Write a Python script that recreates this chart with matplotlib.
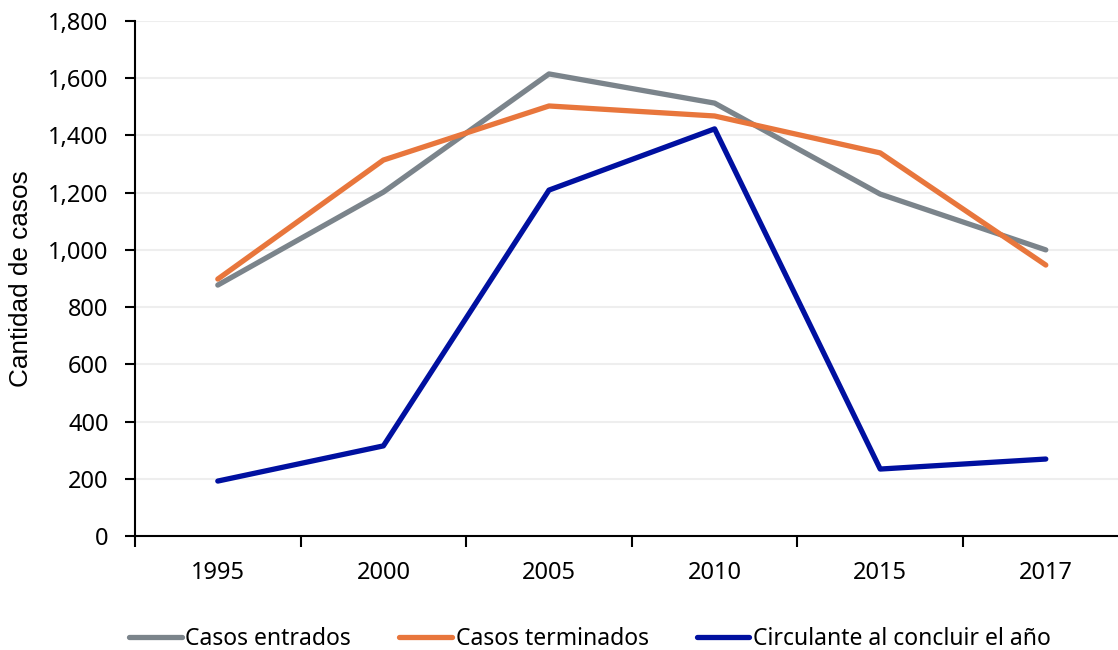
import numpy as np
import matplotlib.pyplot as plt

plt.rcParams['font.family'] = ['Noto Sans', 'DejaVu Sans']

years = ['1995', '2000', '2005', '2010', '2015', '2017']
entrados = [877, 1202, 1615, 1513, 1195, 1000]
terminados = [898, 1314, 1503, 1468, 1339, 947]
circulante = [192, 315, 1209, 1423, 234, 269]

x = np.arange(len(years))

fig = plt.figure(figsize=(11.18, 6.5), dpi=100)
ax = fig.add_axes([135 / 1118, 114 / 650, 983 / 1118, 515 / 650])

ax.plot(x, entrados, color='#7B848B', lw=3.8, label='Casos entrados', solid_capstyle='round')
ax.plot(x, terminados, color='#E8763C', lw=3.8, label='Casos terminados', solid_capstyle='round')
ax.plot(x, circulante, color='#0010A0', lw=3.8, label='Circulante al concluir el año', solid_capstyle='round')

ax.set_ylim(0, 1800)
ax.set_yticks(np.arange(0, 1801, 200))
ax.yaxis.set_major_formatter(plt.FuncFormatter(lambda v, p: f'{int(v):,}'))
ax.grid(axis='y', color='#EEEEEE', lw=1.5)
ax.set_axisbelow(True)

# category axis: ticks between categories, labels at centres
ax.set_xticks(np.arange(-0.5, len(years), 1))
ax.set_xticklabels([])
ax.set_xticks(x, minor=True)
ax.set_xticklabels(years, minor=True)
ax.set_xlim(-0.5, -0.5 + 983 / 165.6)
ax.tick_params(axis='x', which='major', length=8, width=1.5, color='black')
ax.tick_params(axis='x', which='minor', length=0, labelsize=17, pad=18)
ax.tick_params(axis='y', length=7, width=1.5, labelsize=17, pad=12)

for s in ['top', 'right']:
    ax.spines[s].set_visible(False)
for s in ['left', 'bottom']:
    ax.spines[s].set_linewidth(1.5)
    ax.spines[s].set_color('black')

ax.set_ylabel('Cantidad de casos', fontsize=18.8, family='Liberation Sans')
ax.yaxis.set_label_coords(-102 / 983, 0.5)

fig.legend(loc='lower center', bbox_to_anchor=(590 / 1118, -0.033), ncol=3,
           frameon=False, fontsize=16.5, handlelength=2.3, handletextpad=0.15,
           columnspacing=2.1)

fig.savefig('out.png', dpi=100)
